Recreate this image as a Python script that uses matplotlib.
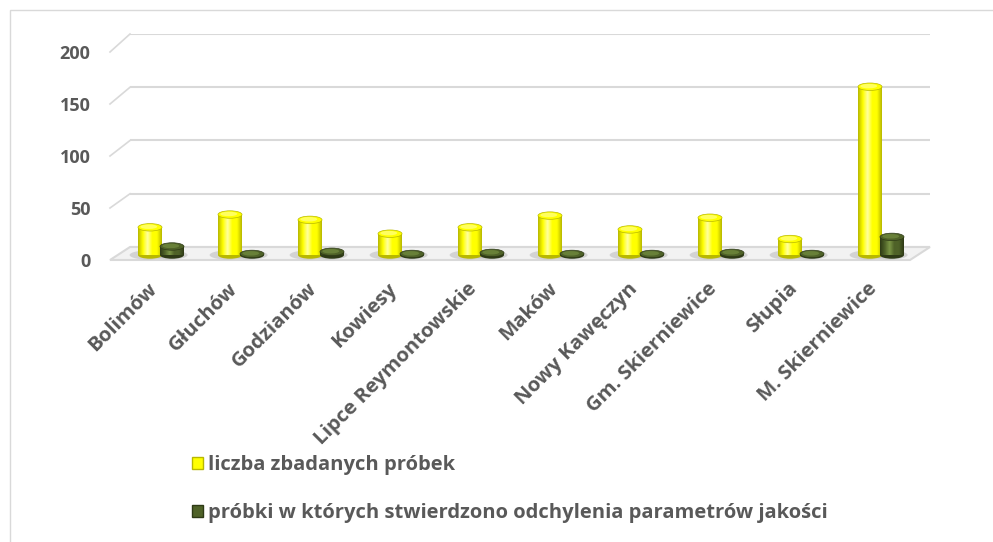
import matplotlib.pyplot as plt
import numpy as np
from matplotlib.colors import LinearSegmentedColormap
from matplotlib.lines import Line2D
from matplotlib.patches import Ellipse, Patch, Polygon, Rectangle

# %%
gminy = ["Bolimów", "Głuchów", "Godzianów", "Kowiesy", "Lipce Reymontowskie",
         "Maków", "Nowy Kawęczyn", "Gm. Skierniewice", "Słupia", "M. Skierniewice"]
zbadane = [26, 38, 33, 20, 26, 37, 24, 35, 15, 158]
odchylenia = [8, 1, 3, 1, 2, 1, 1, 2, 1, 17]
yticks = [0, 50, 100, 150, 200]
legend_labels = ["liczba zbadanych próbek",
                 "próbki w których stwierdzono odchylenia parametrów jakości"]

# %%
plt.rcParams['font.family'] = ['Open Sans', 'DejaVu Sans']
txt = "#595959"
grid_c = "#d9d9d9"
yellow, yellow_dark, yellow_light = "#FFFF00", "#B8B800", "#FFFFA0"
green, green_dark, green_light = "#4F6228", "#2E3A16", "#7A9544"

W, H = 993, 542
fig = plt.figure(figsize=(W / 100, H / 100), dpi=100)
fig.patches.append(Rectangle((10 / W, -0.01), 1.0, 1 - 10 / H + 0.01, transform=fig.transFigure,
                             fill=False, edgecolor=grid_c, lw=1))


def box(l, r, b, t):
    return [l / W, 1 - b / H, (r - l) / W, (b - t) / H]


# back wall (gridlines), bars (middle depth), front (tick labels)
ax_back = fig.add_axes(box(130, 930, 247, 34))
ax_front = fig.add_axes(box(110, 910, 260, 52))
ax = fig.add_axes(box(120, 920, 255, 42))
for a in (ax_back, ax, ax_front):
    a.set_xlim(-0.5, 9.5)
    a.set_ylim(0, 200)
    a.patch.set_visible(False)
    for s in a.spines.values():
        s.set_visible(False)
    a.set_xticks([])
    a.set_yticks([])

for t in yticks:
    ax_back.axhline(t, color=grid_c, lw=1.5, zorder=0)


def to_fig(a, xy):
    return fig.transFigure.inverted().transform(a.transData.transform(xy))


for t in yticks[1:]:
    p0 = to_fig(ax_front, (-0.5, t))
    p1 = to_fig(ax_back, (-0.5, t))
    ax_back.add_line(Line2D([p0[0], p1[0]], [p0[1], p1[1]], color=grid_c, lw=1.2,
                            transform=fig.transFigure, clip_on=False))

# floor
floor = [to_fig(ax_front, (-0.5, 0)), to_fig(ax_front, (9.5, 0)),
         to_fig(ax_back, (9.5, 0)), to_fig(ax_back, (-0.5, 0))]
ax_back.add_patch(Polygon(floor, closed=True, transform=fig.transFigure, clip_on=False,
                          facecolor="#f2f2f2", edgecolor=grid_c, lw=1.5, zorder=1))

ax_front.set_yticks(yticks)
ax_front.set_yticklabels([str(t) for t in yticks], fontsize=13, fontweight="bold", color=txt)
ax_front.tick_params(axis="y", length=0, pad=14)

# cylinders
x = np.arange(len(gminy))
w = 0.3
cap = 7.0
grad = np.linspace(0, 1, 64).reshape(1, -1)


def cylinders(xs, vals, c, cd, cl):
    cmap = LinearSegmentedColormap.from_list("cyl", [cd, c, cl, c, c, cd])
    for xi in xs:
        # soft shadow on the floor
        ax.add_patch(Ellipse((xi - 0.03, 0), w * 1.5, cap * 1.2, facecolor="#9a9a9a",
                             edgecolor="none", alpha=0.35, zorder=2.5, clip_on=False))
        ax.add_patch(Ellipse((xi, 0), w, cap, facecolor=cd, edgecolor="none", zorder=2.9,
                             clip_on=False))
    bars = ax.bar(xs, vals, w, color=c, lw=0, zorder=3)
    for b, xi, v in zip(bars, xs, vals):
        im = ax.imshow(grad, cmap=cmap, aspect="auto", zorder=3.1,
                       extent=(xi - w / 2, xi + w / 2, 0, v))
        im.set_clip_path(b)
        ax.add_patch(Ellipse((xi, v), w, cap, facecolor=c, edgecolor=cd, lw=0.5, zorder=3.3,
                             clip_on=False))
        ax.add_patch(Ellipse((xi - w * 0.05, v + cap * 0.08), w * 0.7, cap * 0.6,
                             facecolor=cl, edgecolor="none", alpha=0.6, zorder=3.4,
                             clip_on=False))


cylinders(x - 0.125, zbadane, yellow, yellow_dark, yellow_light)
cylinders(x + 0.15, odchylenia, green, green_dark, green_light)
ax.set_xlim(-0.5, 9.5)
ax.set_ylim(0, 200)

ax.set_xticks(x - 0.16)
ax.set_xticklabels(gminy, rotation=45, ha="right", va="top", rotation_mode="anchor",
                   fontsize=14.7, fontweight="bold", color=txt)
ax.tick_params(axis="x", length=0, pad=17)

handles = [Patch(facecolor=yellow, edgecolor=yellow_dark),
           Patch(facecolor=green, edgecolor=green_dark)]
fig.legend(handles, legend_labels, loc="upper left", bbox_to_anchor=(192 / W, 1 - 455 / H),
           frameon=False, borderpad=0, borderaxespad=0, handlelength=0.55,
           handleheight=0.55, handletextpad=0.25, labelspacing=1.4,
           prop={"size": 14.5, "weight": "bold"}, labelcolor=txt)

plt.savefig("out.png", dpi=100)
